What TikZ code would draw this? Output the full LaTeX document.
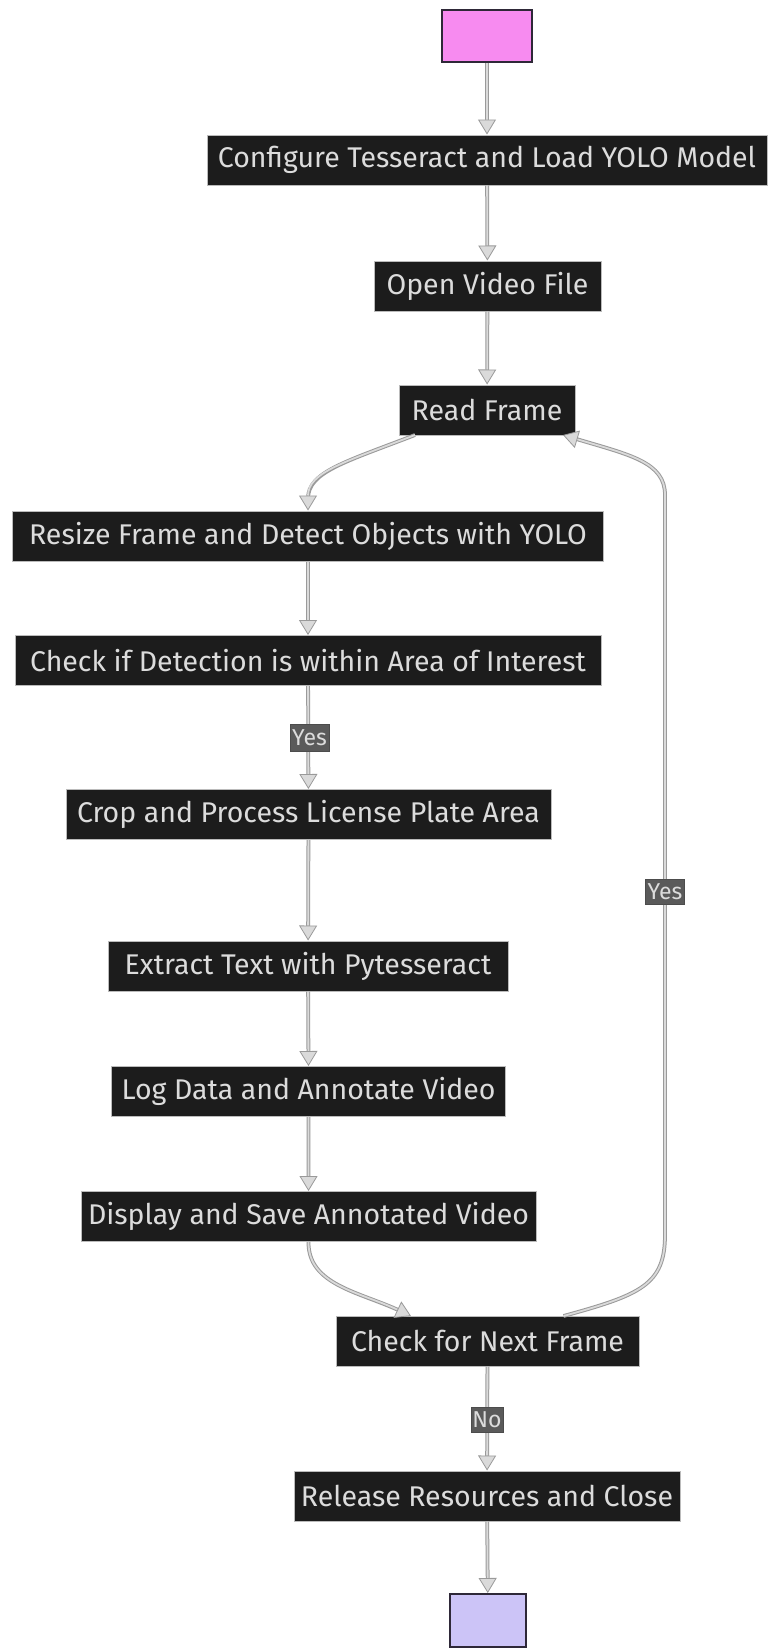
\documentclass[tikz,border=0pt]{standalone}
\usepackage{fontspec}
\setmainfont{Fira Sans}
\usetikzlibrary{arrows.meta}
\definecolor{boxfill}{HTML}{1C1C1C}
\definecolor{boxline}{HTML}{BBBBBB}
\definecolor{boxtext}{HTML}{DCDCDC}
\definecolor{edgein}{HTML}{DADADA}
\definecolor{edgeout}{HTML}{9A9A9A}
\definecolor{startfill}{HTML}{F78BF0}
\definecolor{endfill}{HTML}{CCC4F7}
\definecolor{termline}{HTML}{2E2838}
\definecolor{lblfill}{HTML}{5A5A5A}
\tikzset{
  x=1pt, y=-1pt,
  stepbox/.style={draw=boxline, line width=1pt, fill=boxfill, text=boxtext,
    inner sep=0pt, minimum height=50pt, font=\fontsize{28.5}{32}\selectfont},
  termbox/.style={draw=termline, line width=2pt, inner sep=0pt},
  lbl/.style={fill=lblfill, draw=black!70, line width=0.6pt, text=boxtext,
    inner sep=0pt, font=\fontsize{23}{26}\selectfont},
  flow/.style={draw=edgein, line width=1.8pt,
    -{Triangle[length=15pt,width=18pt,fill=edgein,color=edgeout,line width=0.8pt]},
    preaction={draw=edgeout, line width=3.8pt, -, shorten >=12pt}},
}
\begin{document}
\begin{tikzpicture}
\useasboundingbox (0,0) rectangle (771,1652);
\fill[white] (0,0) rectangle (771,1652);

% process steps
\node[termbox, fill=startfill, minimum width=90pt, minimum height=52pt] (start) at (487,36) {};
\node[stepbox, minimum width=560pt] (cfg) at (487,160) {Configure Tesseract and Load YOLO Model};
\node[stepbox, minimum width=227pt] (open) at (487.5,286) {Open Video File};
\node[stepbox, minimum width=176pt] (read) at (487,410) {Read Frame};
\node[stepbox, minimum width=591pt] (resize) at (308,536) {Resize Frame and Detect Objects with YOLO};
\node[stepbox, minimum width=586pt] (check) at (308,660.5) {Check if Detection is within Area of Interest};
\node[stepbox, minimum width=485pt] (crop) at (308.5,814.5) {Crop and Process License Plate Area};
\node[stepbox, minimum width=400pt] (ocr) at (308,966) {Extract Text with Pytesseract};
\node[stepbox, minimum width=394pt] (log) at (308.6,1091.5) {Log Data and Annotate Video};
\node[stepbox, minimum width=455pt] (show) at (308.5,1216.5) {Display and Save Annotated Video};
\node[stepbox, minimum width=303pt] (next) at (487.5,1341) {Check for Next Frame};
\node[stepbox, minimum width=386pt] (rel) at (487,1496) {Release Resources and Close};
\node[termbox, fill=endfill, minimum width=76pt, minimum height=53pt] (stop) at (488,1620.5) {};

% helper points for the curved connectors
\coordinate (readL) at (415,435);
\coordinate (readR) at (563,435);
\coordinate (nextL) at (411,1316);
\coordinate (nextR) at (563.5,1316);

% connectors
\draw[flow] (start) -- (cfg);
\draw[flow] (cfg) -- (open);
\draw[flow] (open) -- (read);
\draw[flow] (readL) .. controls (345,462) and (308,472) .. (resize.north);
\draw[flow] (resize) -- (check);
\draw[flow] (check) -- (crop);
\draw[flow] (crop) -- (ocr);
\draw[flow] (ocr) -- (log);
\draw[flow] (log) -- (show);
\draw[flow] (show.south) .. controls (308,1285) and (360,1292) .. (nextL);
\draw[flow] (nextR) .. controls (640,1295) and (665,1285) .. (665,1235)
  -- (665,495) .. controls (665,462) and (630,455) .. (readR);
\draw[flow] (next) -- (rel);
\draw[flow] (rel) -- (stop);

% edge labels
\node[lbl, minimum width=39pt, minimum height=27pt] (yes1) at (309.5,737.5) {Yes};
\node[lbl, minimum width=39pt, minimum height=25pt] (yes2) at (665,892) {Yes};
\node[lbl, minimum width=32pt, minimum height=25pt] (no) at (487,1419.5) {No};
\end{tikzpicture}
\end{document}
